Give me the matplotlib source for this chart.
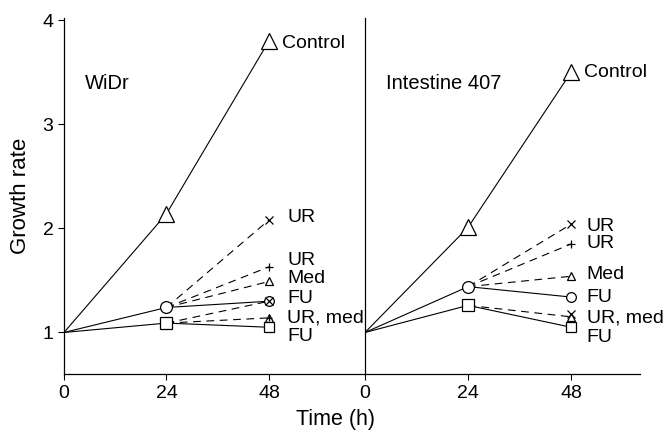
import matplotlib
matplotlib.use('Agg')
import matplotlib.pyplot as plt

plt.rcParams['font.family'] = ['Liberation Sans', 'DejaVu Sans']

times = [0, 24, 48]
panels = ['WiDr', 'Intestine 407']

# control curves (0, 24, 48 h)
widr_control = [1.0, 2.14, 3.80]
int_control = [1.0, 2.01, 3.50]

# the two branches up to 24 h: circle and square
widr_circle = [1.0, 1.24]
widr_square = [1.0, 1.09]
int_circle = [1.0, 1.44]
int_square = [1.0, 1.26]

# 48 h end points leaving the circle
widr_circle_end = [2.08, 1.63, 1.49, 1.30]
int_circle_end = [2.04, 1.85, 1.54, 1.34]
circle_end_marks = ['x', '+', '^', 'o']
circle_end_dash = [True, True, True, False]

# 48 h end points leaving the square
widr_square_end = [1.30, 1.14, 1.05]
widr_square_marks = ['x', '^', 's']
widr_square_dash = [True, True, False]
int_square_end = [1.15, 1.05]
int_square_marks = ['^', 's']
int_square_dash = [True, False]

end_labels = ['Control', 'UR', 'UR', 'Med', 'FU', 'UR, med', 'FU']
widr_label_y = [3.78, 2.10, 1.69, 1.52, 1.33, 1.14, 0.96]
int_label_y = [3.50, 2.02, 1.85, 1.56, 1.34, 1.14, 0.95]

fig = plt.figure(figsize=(6.7, 4.3), dpi=100)
ax1 = fig.add_axes([0.0955, 0.130, 0.4493, 0.828])
ax2 = fig.add_axes([0.5448, 0.130, 0.4102, 0.828])

lw = 0.8
dash = (0, (7, 5))
msz = {'x': 5.5, '+': 5.5, '^': 5.5, 'o': 7, 's': 7}


def draw(ax, control, circ, sq, circ_end, sq_end, sq_marks, sq_dash, label_y, name, xmax, lab_x):
    ax.plot(times, control, color='k', lw=lw)
    ax.plot(times[1:], control[1:], ls='none', marker='^', ms=11.5, mfc='white', mec='k', mew=0.9)
    ax.plot(times[:2], circ, color='k', lw=lw)
    ax.plot(times[:2], sq, color='k', lw=lw)
    for v, m, d in zip(circ_end, circle_end_marks, circle_end_dash):
        ax.plot([24, 48], [circ[1], v], color='k', lw=lw, ls=dash if d else '-')
    for v, m, d in zip(sq_end, sq_marks, sq_dash):
        ax.plot([24, 48], [sq[1], v], color='k', lw=lw, ls=dash if d else '-')
    for v, m in zip(circ_end, circle_end_marks):
        ax.plot(48, v, ls='none', marker=m, ms=msz[m], mfc='white', mec='k', mew=0.9)
    for v, m in zip(sq_end, sq_marks):
        ax.plot(48, v, ls='none', marker=m, ms=msz[m], mfc='white', mec='k', mew=0.9)
    ax.plot(24, circ[1], ls='none', marker='o', ms=8.5, mfc='white', mec='k', mew=0.9)
    ax.plot(24, sq[1], ls='none', marker='s', ms=8, mfc='white', mec='k', mew=0.9)

    for i, (t, y) in enumerate(zip(end_labels, label_y)):
        x = 51.0 if i == 0 else lab_x
        ax.text(x, y, t, fontsize=14, va='center', ha='left')
    ax.text(5, 3.39, name, fontsize=14.5, va='center', ha='left')

    ax.set_xlim(0, xmax)
    ax.set_ylim(0.6, 4.02)
    ax.set_xticks(times)
    ax.tick_params(labelsize=14, length=4, width=0.8)
    ax.spines['top'].set_visible(False)
    ax.spines['right'].set_visible(False)
    ax.patch.set_alpha(0)


draw(ax1, widr_control, widr_circle, widr_square, widr_circle_end,
     widr_square_end, widr_square_marks, widr_square_dash, widr_label_y, panels[0], 70.5, 52.3)
# UR, med marker on WiDr is a triangle with a plus on it
ax1.plot(48, widr_square_end[1], ls='none', marker='+', ms=5, mec='k', mew=0.9)

draw(ax2, int_control, int_circle, int_square, int_circle_end,
     int_square_end, int_square_marks, int_square_dash, int_label_y, panels[1], 64, 51.6)
# UR, med marker on Intestine 407 is a triangle crossed by an x
ax2.plot(48, int_square_end[0] + 0.03, ls='none', marker='x', ms=6, mec='k', mew=0.9)

ax1.set_yticks([1, 2, 3, 4])
ax2.set_yticks([])
ax1.set_ylabel('Growth rate', fontsize=16, labelpad=8)
for ax in (ax1, ax2):
    for s in ('left', 'bottom'):
        ax.spines[s].set_linewidth(0.9)

fig.text(0.5, 0.025, 'Time (h)', fontsize=15.5, ha='center', va='center')

fig.savefig('out.png', dpi=100)
